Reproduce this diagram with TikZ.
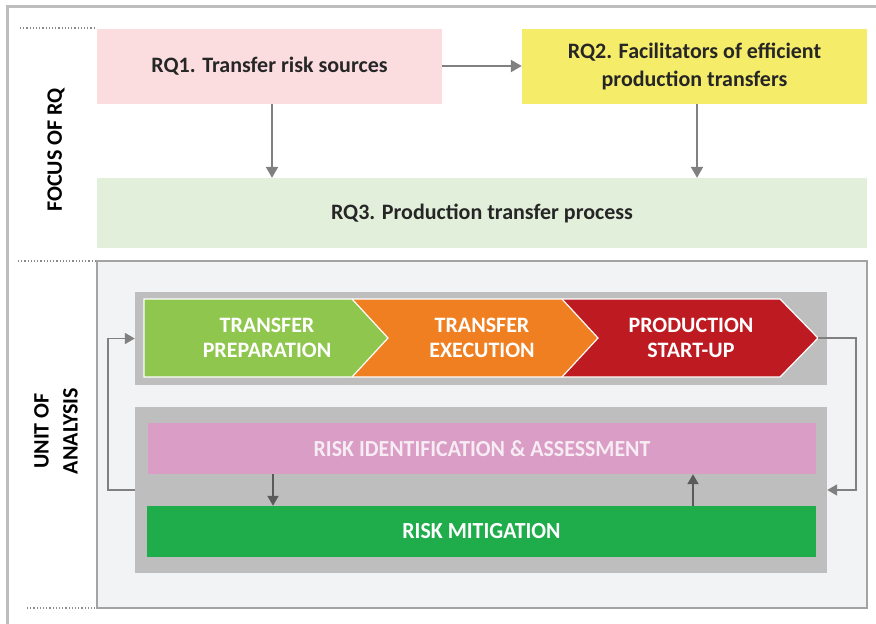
\documentclass[tikz,border=0pt]{standalone}
\usepackage{fontspec}
\setmainfont{Carlito}
\newfontfamily\condfont[FakeStretch=0.95]{Carlito}
\usetikzlibrary{arrows.meta}
\definecolor{frameg}{HTML}{BDBDBD}
\definecolor{dotg}{HTML}{8A8A8A}
\definecolor{arrg}{HTML}{808080}
\definecolor{darkarr}{HTML}{5A5A5A}
\definecolor{rqpink}{HTML}{FBDDE0}
\definecolor{rqyellow}{HTML}{F5EC6A}
\definecolor{rqgreen}{HTML}{E2EFDA}
\definecolor{unitfill}{HTML}{F2F3F5}
\definecolor{unitdraw}{HTML}{A3A3A3}
\definecolor{contg}{HTML}{BEBEBE}
\definecolor{chgreen}{HTML}{8FC74E}
\definecolor{chorange}{HTML}{F07F22}
\definecolor{chred}{HTML}{BE1A22}
\definecolor{riskpink}{HTML}{D99DC6}
\definecolor{riskgreen}{HTML}{1FAD4C}
\definecolor{txtdark}{HTML}{262626}
\definecolor{pinktxt}{HTML}{F7ECF3}
\tikzset{
  rqbox/.style={draw=none, minimum width=345pt, minimum height=75pt, inner sep=0pt, align=center,
    font=\fontsize{22}{28}\selectfont\bfseries, text=txtdark},
  cont/.style={fill=contg, draw=none, inner sep=0pt},
  bar/.style={draw=none, inner sep=0pt, minimum height=51pt,
    font=\condfont\fontsize{23}{26}\selectfont\bfseries},
  chev/.style={draw=white, line width=1.2pt},
  chevtxt/.style={text=white, align=center, font=\fontsize{22}{25}\selectfont\bfseries},
  garr/.style={draw=arrg, line width=2.2pt, -{Triangle[length=11pt,width=12pt]}},
  darr/.style={draw=darkarr, line width=2pt, -{Triangle[length=10pt,width=11pt]}},
  loopline/.style={draw=arrg, line width=1.8pt, -{Triangle[length=10pt,width=11pt]}},
  dotline/.style={draw=dotg, line width=1.8pt, dash pattern=on 1.2pt off 2pt},
  sidelabel/.style={rotate=90, align=center, text=black, font=\fontsize{22}{29}\selectfont\bfseries}
}
\begin{document}
\begin{tikzpicture}[x=1pt, y=-1pt]
\useasboundingbox (0,0) rectangle (876,624);
\fill[white] (0,0) rectangle (876,624);
% outer frame
\draw[frameg, line width=3pt] (7,640) -- (7,6.5) -- (890,6.5);
% dotted separators
\draw[dotline] (20,28) -- (95,28);
\draw[dotline] (18,261) -- (97,261);
\draw[dotline] (27,608) -- (97,608);
% side labels
\node[sidelabel] (focus) at (56,150) {FOCUS OF RQ};
\node[sidelabel] (unit) at (56,431) {UNIT OF\\ANALYSIS};
% RQ boxes
\node[rqbox, fill=rqpink] (rq1) at (269.5,66) {RQ1. Transfer risk sources};
\node[rqbox, fill=rqyellow] (rq2) at (694.5,66) {RQ2. Facilitators of efficient\\production transfers};
\node[rqbox, fill=rqgreen, minimum width=770pt, minimum height=70pt] (rq3) at (482,213) {RQ3. Production transfer process};
\coordinate (x1) at (272,0);
\coordinate (x2) at (697,0);
\draw[garr] (rq1.east) -- (rq2.west);
\draw[garr] (x1 |- rq1.south) -- (x1 |- rq3.north);
\draw[garr] (x2 |- rq2.south) -- (x2 |- rq3.north);
% unit of analysis box
\node[fill=unitfill, draw=unitdraw, line width=1.5pt, minimum width=770pt, minimum height=347pt, inner sep=0pt] (unitbox) at (482,434.5) {};
% containers
\node[cont, minimum width=692pt, minimum height=93pt] (pc) at (481,338.5) {};
\node[cont, minimum width=692pt, minimum height=166pt] (lc) at (481,490) {};
% chevrons
\fill[chgreen] (144,299) -- (352,299) -- (388,338) -- (352,377) -- (144,377) -- cycle;
\fill[chorange] (352,299) -- (562,299) -- (598,338) -- (562,377) -- (352,377) -- (388,338) -- cycle;
\fill[chred] (562,299) -- (780,299) -- (818,338) -- (780,377) -- (562,377) -- (598,338) -- cycle;
\draw[chev] (144,299) -- (780,299) -- (818,338) -- (780,377) -- (144,377) -- cycle;
\draw[chev] (352,299) -- (388,338) -- (352,377);
\draw[chev] (562,299) -- (598,338) -- (562,377);
\coordinate (tip) at (818,338);
\node[chevtxt] (c1) at (267,338) {TRANSFER\\PREPARATION};
\node[chevtxt] (c2) at (482,338) {TRANSFER\\EXECUTION};
\node[chevtxt] (c3) at (691,338) {PRODUCTION\\START-UP};
% risk bars
\node[bar, fill=riskpink, minimum width=668pt, text=pinktxt] (rid) at (482,448.5) {RISK IDENTIFICATION \& ASSESSMENT};
\node[bar, fill=riskgreen, minimum width=669pt, text=white] (rmit) at (481.5,531.5) {RISK MITIGATION};
\coordinate (d1) at (273,0);
\coordinate (d2) at (693,0);
\draw[darr] (d1 |- rid.south) -- (d1 |- rmit.north);
\draw[darr] (d2 |- rmit.north) -- (d2 |- rid.south);
% feedback loops
\draw[loopline] (lc.west) -- ++(-27,0) |- (pc.west);
\draw[loopline] (tip) -- ++(38,0) |- (lc.east);
\end{tikzpicture}
\end{document}
